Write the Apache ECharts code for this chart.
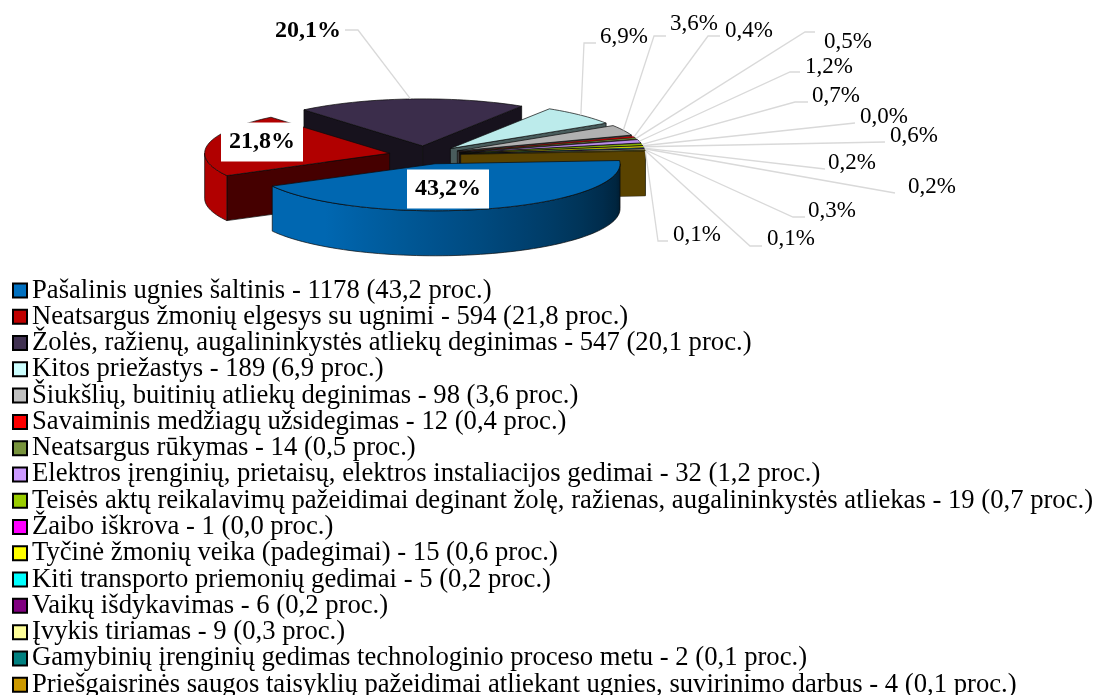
<!DOCTYPE html>
<html><head><meta charset="utf-8">
<style>html,body{margin:0;padding:0;background:#fff}#c{width:1097px;height:695px}</style>
<script src="https://cdn.jsdelivr.net/npm/echarts@6/dist/echarts.min.js"></script>
</head><body><div id="c"></div>
<script>
const causes = ["Pašalinis ugnies šaltinis","Neatsargus žmonių elgesys su ugnimi","Žolės, ražienų, augalininkystės atliekų deginimas","Kitos priežastys","Šiukšlių, buitinių atliekų deginimas","Savaiminis medžiagų užsidegimas","Neatsargus rūkymas","Elektros įrenginių, prietaisų, elektros instaliacijos gedimai","Teisės aktų reikalavimų pažeidimai deginant žolę, ražienas, augalininkystės atliekas","Žaibo iškrova","Tyčinė žmonių veika (padegimai)","Kiti transporto priemonių gedimai","Vaikų išdykavimas","Įvykis tiriamas","Gamybinių įrenginių gedimas technologinio proceso metu","Priešgaisrinės saugos taisyklių pažeidimai atliekant ugnies, suvirinimo darbus"];
const counts = [1178,594,547,189,98,12,14,32,19,1,15,5,6,9,2,4];
const percents = ["43,2","21,8","20,1","6,9","3,6","0,4","0,5","1,2","0,7","0,0","0,6","0,2","0,2","0,3","0,1","0,1"];
const colors = ["#0070c0","#c00000","#403151","#ccffff","#c0c0c0","#ff0000","#77933c","#cc99ff","#99cc00","#ff00ff","#ffff00","#00ffff","#800080","#ffff99","#008080","#cc9900"];

// layout of the tilted pie, in pixels
const pie = {cx:425, cy:155, rx:185, ry:47, depth:45, explode:36, start:-4};
// label placement: text centre, then the leader's elbow and end (blank = inside the slice)
const labelSpots = [
  {x:448,y:189,bold:1},{x:262,y:142,bold:1},
  {x:308,y:31,bold:1,path:[[358,30],[345,30]]},
  {x:624,y:37,path:[[584,43],[596,43]]},
  {x:694,y:24,path:[[654,36],[666,36]]},
  {x:749,y:31,path:[[708,36],[720,36]]},
  {x:848,y:42,path:[[805,32],[815,32]]},
  {x:829,y:67,path:[[790,72],[800,72]]},
  {x:836,y:96,path:[[795,102],[808,102]]},
  {x:884,y:117,path:[[855,123]]},
  {x:914,y:136,path:[[885,142]]},
  {x:852,y:163,path:[[825,169]]},
  {x:932,y:187,path:[[895,193]]},
  {x:832,y:211,path:[[793,217],[805,217]]},
  {x:791,y:239,path:[[750,246],[762,246]]},
  {x:697,y:235,path:[[658,241],[668,241]]}
];

const total = counts.reduce((a,b)=>a+b,0);
let running = pie.start;
const slices = counts.map((v,i)=>{
  const a = running, b = running + v/total*360;
  running = b;
  const m = (a+b)/2*Math.PI/180;
  return {i,a,b,mid:(a+b)/2,depthKey:Math.sin(m),
    ox:pie.cx+pie.explode*Math.cos(m),
    oy:pie.cy+pie.explode*Math.sin(m)*pie.ry/pie.rx};
});
const rim = (s,deg,dy)=>{
  const t=deg*Math.PI/180;
  return [s.ox+pie.rx*Math.cos(t), s.oy+pie.ry*Math.sin(t)+(dy||0)];
};
const arc = (s,a,b,dy)=>{
  const n=Math.max(2,Math.ceil(Math.abs(b-a)/2)), p=[];
  for(let k=0;k<=n;k++) p.push(rim(s,a+(b-a)*k/n,dy));
  return p;
};
function shade(hex,f){
  const n=parseInt(hex.slice(1),16);
  const c=[n>>16&255,n>>8&255,n&255].map(x=>Math.round(x*f));
  return `rgb(${c[0]},${c[1]},${c[2]})`;
}
const lit = th => Math.min(0.92,0.26+0.66*Math.max(th,0)/125);
const poly = (pts,fill,lw)=>({type:'polygon',silent:true,shape:{points:pts},style:{fill,stroke:'#0a0a0a',lineWidth:lw}});
const bold = 'bold 24px "Liberation Serif"', plain = '23px "Liberation Serif"';

function sliceShapes(s){
  const col=colors[s.i], kids=[];
  const lw = s.b-s.a<3 ? 0.3 : 0.7;
  const apex=[s.ox,s.oy], low=[s.ox,s.oy+pie.depth];
  const sideFill=shade(col,col==='#cc9900'?0.44:0.36);
  if(Math.sin((s.a-90)*Math.PI/180)>0){
    const p=rim(s,s.a);
    kids.push(poly([apex,p,[p[0],p[1]+pie.depth],low],sideFill,lw));
  }
  if(Math.sin((s.b+90)*Math.PI/180)>0){
    const p=rim(s,s.b);
    kids.push(poly([apex,p,[p[0],p[1]+pie.depth],low],sideFill,lw));
  }
  const from=Math.max(s.a,0), to=Math.min(s.b,180);
  if(to>from){
    const x0=rim(s,to)[0], x1=rim(s,from)[0];
    const stops=[];
    for(let k=0;k<=12;k++){
      const th=to+(from-to)*k/12;
      stops.push({offset:Math.min(1,Math.max(0,(rim(s,th)[0]-x0)/(x1-x0))),color:shade(col,lit(th))});
    }
    kids.push(poly(arc(s,from,to).concat(arc(s,to,from,pie.depth)),
      {type:'linear',x:0,y:0,x2:1,y2:0,colorStops:stops},lw));
  }
  kids.push(poly([apex].concat(arc(s,s.a,s.b)),shade(col,0.92),lw));
  return kids;
}
function labelShapes(s){
  const spot=labelSpots[s.i], kids=[];
  if(spot.path){
    kids.push({type:'polyline',silent:true,z2:5,shape:{points:[rim(s,s.mid)].concat(spot.path)},
      style:{stroke:'#d9d9d9',lineWidth:1.3,fill:null}});
  }
  const style={text:percents[s.i]+'%',x:spot.x,y:spot.y,align:'center',verticalAlign:'middle',
    font:spot.bold?bold:plain,fill:'#000'};
  if(spot.bold && !spot.path){style.backgroundColor='#fff';style.padding=[9,8,6,8];}
  kids.push({type:'text',silent:true,z2:10,style});
  return kids;
}

const legendName = i=>`${causes[i]} - ${counts[i]} (${percents[i]} proc.)`;
const drawOrder = slices.slice().sort((p,q)=>p.depthKey-q.depthKey);
const series = drawOrder.map((s,order)=>({
  type:'custom',
  name:legendName(s.i),
  coordinateSystem:'none',
  z:2+order,
  silent:true,
  itemStyle:{color:colors[s.i]},
  data:[{value:[counts[s.i]]}],
  renderItem:()=>({type:'group',children:sliceShapes(s).concat(labelShapes(s))})
}));

const chart = echarts.init(document.getElementById('c'),null,{renderer:'canvas'});
chart.setOption({
  animation:false,
  backgroundColor:'#fff',
  legend:{
    orient:'vertical',left:12,top:277,height:460,padding:0,
    icon:'rect',itemWidth:14,itemHeight:14,itemGap:-0.72,
    selectedMode:false,
    itemStyle:{borderColor:'#000',borderWidth:2},
    textStyle:{fontFamily:'Liberation Serif',fontSize:26.67,color:'#000',lineHeight:26.13,padding:[0,0,0,0]},
    data:causes.map((_,i)=>({name:legendName(i)}))
  },
  series
});
</script></body></html>
